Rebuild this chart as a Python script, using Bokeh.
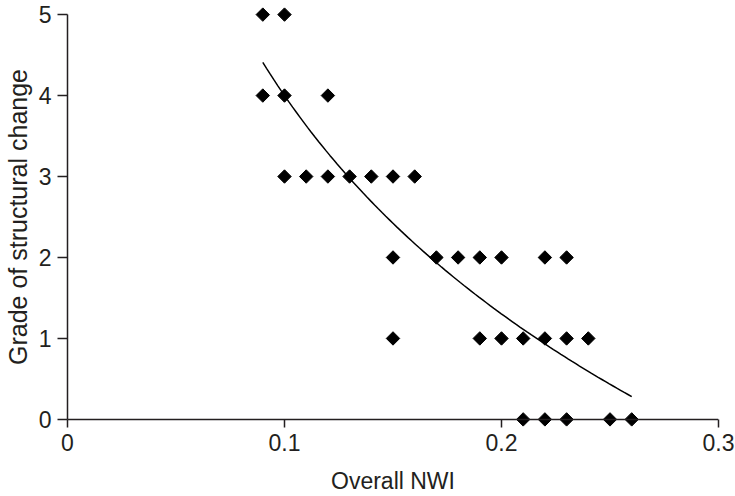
import numpy as np
from bokeh.plotting import figure
from bokeh.models import Range1d, FixedTicker, Span, LinearAxis
from bokeh.embed import file_html
from bokeh.resources import INLINE

# Data: overall NWI (x) vs grade of structural change (y)
nwi = [0.09, 0.10,
       0.09, 0.10, 0.12,
       0.10, 0.11, 0.12, 0.13, 0.14, 0.15, 0.16,
       0.15, 0.17, 0.18, 0.19, 0.20, 0.22, 0.23,
       0.15, 0.19, 0.20, 0.21, 0.22, 0.23, 0.24,
       0.21, 0.22, 0.23, 0.25, 0.26]
grade = [5, 5,
         4, 4, 4,
         3, 3, 3, 3, 3, 3, 3,
         2, 2, 2, 2, 2, 2, 2,
         1, 1, 1, 1, 1, 1, 1,
         0, 0, 0, 0, 0]
x_ticks = [0, 0.1, 0.2, 0.3]
y_ticks = [0, 1, 2, 3, 4, 5]

x = np.array(nwi)
y = np.array(grade, dtype=float)
# logarithmic trend line fitted to the data
xs = np.linspace(x.min(), x.max(), 100)
cl = np.polyfit(np.log(x), y, 1)
y_log = cl[0] * np.log(xs) + cl[1]

FONT = "Liberation Sans"
TXT = "#231f20"

p = figure(width=735, height=496, output_backend="svg", toolbar_location=None,
           x_range=Range1d(0, 0.3), y_range=Range1d(-0.1, 5.1),
           min_border_left=66, min_border_right=17, min_border_top=6,
           min_border_bottom=40)
p.outline_line_color = None
p.xgrid.visible = False
p.ygrid.visible = False

# x axis line at grade 0
p.add_layout(Span(location=0, dimension="width", line_color=TXT, line_width=1.5))

p.line(xs, y_log, line_color="black", line_width=1.5)
p.scatter(nwi, grade, marker="square", angle=np.pi / 4, size=9.5,
          fill_color="black", line_color="black")

for ax in (p.xaxis[0], p.yaxis[0]):
    ax.axis_line_color = TXT
    ax.axis_line_width = 1.5
    ax.major_tick_line_color = TXT
    ax.major_tick_line_width = 1.5
    ax.minor_tick_line_color = None
    ax.major_label_text_font = FONT
    ax.major_label_text_font_size = "23px"
    ax.major_label_text_color = TXT
    ax.axis_label_text_font = FONT
    ax.axis_label_text_font_style = "normal"
    ax.axis_label_text_font_size = "23px"
    ax.axis_label_text_color = TXT

p.xaxis.ticker = FixedTicker(ticks=x_ticks)
p.yaxis.ticker = FixedTicker(ticks=y_ticks)
p.xaxis.major_label_overrides = {0: "0", 0.1: "0.1", 0.2: "0.2", 0.3: "0.3"}
p.xaxis.axis_line_color = None
p.xaxis.major_tick_in = 8
p.xaxis.major_tick_out = 0
p.yaxis.major_tick_in = 0
p.yaxis.major_tick_out = 10
p.yaxis.bounds = (0, 5)
p.xaxis.major_label_standoff = 6
p.yaxis.major_label_standoff = 6
p.yaxis.axis_label = "Grade of structural change"
p.yaxis.axis_label_text_font_size = "25px"
p.yaxis.axis_label_standoff = 4

# x-axis title, drawn as the single label of a second, bare axis below
title_axis = LinearAxis(ticker=FixedTicker(ticks=[0.15]),
                        major_label_overrides={0.15: "Overall NWI"},
                        axis_line_color=None, major_tick_line_color=None,
                        minor_tick_line_color=None,
                        major_tick_in=0, major_tick_out=0,
                        major_label_standoff=14,
                        major_label_text_font=FONT,
                        major_label_text_font_size="23px",
                        major_label_text_color=TXT)
p.add_layout(title_axis, "below")

open("out.html", "w").write(file_html(p, INLINE))
